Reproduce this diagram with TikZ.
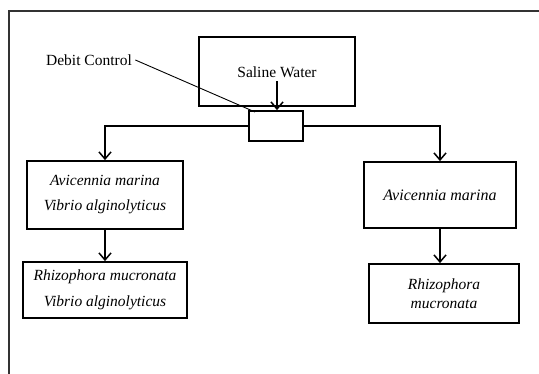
\documentclass[tikz,border=0pt]{standalone}
\usepackage{fontspec}
\setmainfont{Liberation Serif}
\usetikzlibrary{arrows.meta}
\begin{document}
\begin{tikzpicture}[x=1pt, y=-1pt,
    every node/.style={font=\fontsize{15.5}{18}\selectfont},
    box/.style={draw, line width=1.8pt, align=center, inner sep=0pt},
    flow/.style={line width=2pt, -{Straight Barb[length=7pt, width=12pt, line width=1.5pt]}}]
    \useasboundingbox (0,0) rectangle (539,374);
    % page frame (top and left only)
    \draw[line width=1.2pt, black!80] (9,374) -- (9,11) -- (539,11);

    % source and valve
    \node[box, minimum width=156pt, minimum height=69pt] (water) at (277,71.5) {};
    \node (wtext) at (277,72) {Saline Water};
    \node[box, minimum width=54pt, minimum height=30pt] (valve) at (276,126) {};
    \node (debit) at (89,60) {Debit Control};
    \coordinate (valvetip) at (255,112);

    % left branch
    \node[box, minimum width=156pt, minimum height=68pt] (amvib) at (105,195)
        {\itshape Avicennia marina\\[7pt]\itshape Vibrio alginolyticus};
    \node[box, minimum width=164pt, minimum height=56pt] (rmvib) at (105,290)
        {\itshape Rhizophora mucronata\\[8pt]\itshape Vibrio alginolyticus};

    % right branch
    \node[box, minimum width=152pt, minimum height=66pt] (am) at (440,195)
        {\fontsize{16}{18}\selectfont\itshape Avicennia marina};
    \node[box, minimum width=150pt, minimum height=59pt] (rm) at (444,293.5)
        {\itshape Rhizophora\\[1pt]\itshape mucronata};

    % connectors
    \draw[line width=0.9pt] (debit.east) -- (valvetip);
    \draw[flow] (wtext.south) -- (wtext.south |- valve.north);
    \draw[flow] (valve.west) -| (amvib.north);
    \draw[flow] (valve.east) -| (am.north);
    \draw[flow] (amvib.south) -- (rmvib.north);
    \draw[flow] (am.south) -- (am.south |- rm.north);
\end{tikzpicture}
\end{document}
